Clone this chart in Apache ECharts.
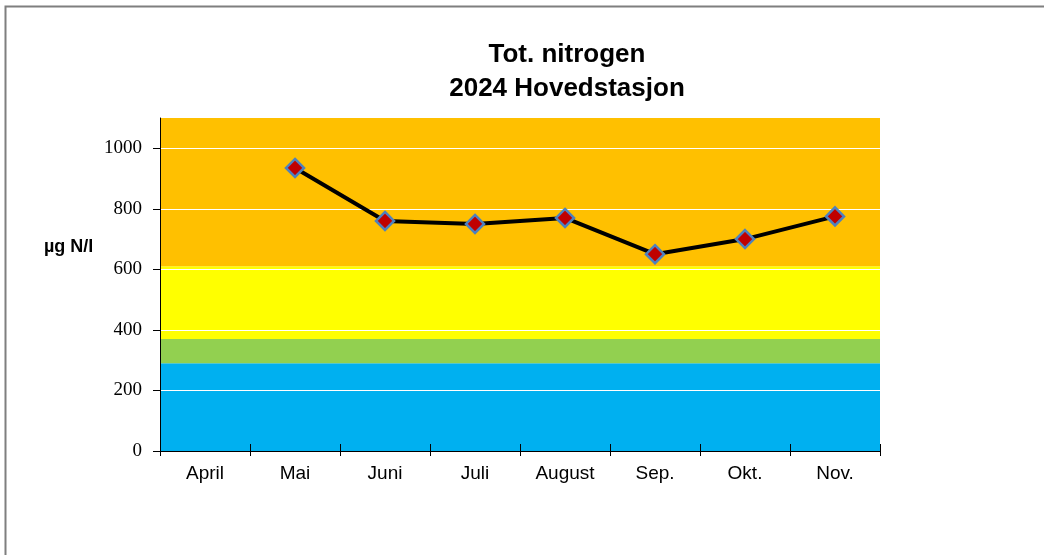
<!DOCTYPE html>
<html>
<head>
<meta charset="utf-8">
<script src="https://cdn.jsdelivr.net/npm/echarts@6/dist/echarts.min.js"></script>
<style>
  html, body { margin: 0; padding: 0; background: #fff; }
  #main { width: 1044px; height: 555px; }
</style>
</head>
<body>
<div id="main"></div>
<script>
var months = ['April', 'Mai', 'Juni', 'Juli', 'August', 'Sep.', 'Okt.', 'Nov.'];
var totN = ['-', 935, 760, 750, 770, 650, 700, 775];
var yTicks = [0, 200, 400, 600, 800, 1000];
// klassegrenser (bakgrunnsfarger)
var bandLimits = [0, 290, 370, 610, 1100];
var bandColors = ['#00B0F0', '#92D050', '#FFFF00', '#FFC000'];

var chart = echarts.init(document.getElementById('main'));

var areas = [];
for (var i = 0; i < bandColors.length; i++) {
  areas.push([
    { yAxis: bandLimits[i], itemStyle: { color: bandColors[i] } },
    { yAxis: bandLimits[i + 1] }
  ]);
}

var xFont = { fontFamily: 'Liberation Sans, Arial', fontSize: 19, color: '#000' };

var option = {
  animation: false,
  backgroundColor: '#fff',
  title: {
    text: 'Tot. nitrogen\n2024 Hovedstasjon',
    left: 562,
    top: 33,
    textAlign: 'center',
    textStyle: {
      fontFamily: 'Liberation Sans, Arial',
      fontWeight: 'bold',
      fontSize: 26,
      lineHeight: 34,
      color: '#000'
    }
  },
  graphic: [{
    type: 'rect',
    shape: { x: 5.5, y: 6.5, width: 1100, height: 600 },
    style: { fill: 'none', stroke: '#7f7f7f', lineWidth: 2 },
    z: 100
  }, {
    type: 'text',
    left: 44,
    top: 238,
    style: {
      text: 'µg N/l',
      font: 'bold 18px "Liberation Sans", Arial',
      fill: '#000'
    }
  }],
  grid: { left: 160, right: 164, top: 118, bottom: 104 },
  xAxis: [{
    type: 'category',
    data: months,
    boundaryGap: true,
    axisLine: { lineStyle: { color: '#000', width: 1 } },
    axisTick: { show: true, length: 5, lineStyle: { color: '#000' } },
    axisLabel: Object.assign({ margin: 13 }, xFont),
    splitLine: { show: false },
    z: 5
  }, {
    // innvendige tick-streker (kryssende)
    type: 'category',
    data: months,
    position: 'bottom',
    boundaryGap: true,
    axisLine: { show: false },
    axisTick: { show: true, inside: true, length: 7, lineStyle: { color: '#000' } },
    axisLabel: { show: false },
    splitLine: { show: false },
    z: 5
  }],
  yAxis: {
    type: 'value',
    min: 0,
    max: 1100,
    interval: 200,
    axisLine: { show: true, lineStyle: { color: '#000', width: 1 } },
    axisTick: { show: true, length: 7, customValues: yTicks, lineStyle: { color: '#000' } },
    axisLabel: {
      fontFamily: 'Liberation Serif, Times New Roman',
      fontSize: 19,
      color: '#000',
      margin: 18,
      customValues: yTicks,
      formatter: function (v) { return String(v); }
    },
    splitLine: { show: true, lineStyle: { color: '#fff', width: 1 } },
    z: 5
  },
  series: [{
    type: 'line',
    data: totN,
    symbol: 'diamond',
    symbolSize: 18,
    lineStyle: { color: '#000', width: 4 },
    itemStyle: { color: '#C00000', borderColor: '#4F81BD', borderWidth: 2.5 },
    z: 10,
    markArea: {
      silent: true,
      z: 1,
      data: areas
    }
  }]
};

chart.setOption(option);
</script>
</body>
</html>
